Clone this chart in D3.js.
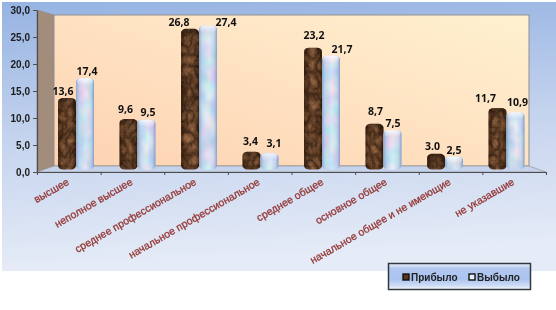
<!DOCTYPE html>
<html>
<head>
<meta charset="utf-8">
<script src="https://cdn.jsdelivr.net/npm/d3@7"></script>
<style>
  html, body { margin: 0; padding: 0; background: #fff; }
  svg { display: block; }
  text { font-family: "Liberation Sans", Arial, sans-serif; }
  .axis text { font-size: 10px; font-weight: bold; fill: #1c1c1c; }
  .cat { font-size: 10.5px; fill: #943634; stroke: #943634; stroke-width: 0.3px; }
  .val { font-family: "Open Sans", sans-serif; font-size: 10.5px; font-weight: 700; fill: #111; }
  .leg { font-size: 10px; font-weight: bold; fill: #222; }
</style>
</head>
<body>
<div id="chart"></div>
<script>
const categories = ['высшее', 'неполное высшее', 'среднее профессиональное', 'начальное профессиональное',
  'среднее общее', 'основное общее', 'начальное общее и не имеющие', 'не указавшие'];
const seriesNames = ['Прибыло', 'Выбыло'];
const arrived = [13.6, 9.6, 26.8, 3.4, 23.2, 8.7, 3.0, 11.7];
const left = [17.4, 9.5, 27.4, 3.1, 21.7, 7.5, 2.5, 10.9];
const arrivedLabels = ['13,6', '9,6', '26,8', '3,4', '23,2', '8,7', '3.0', '11,7'];
const leftLabels = ['17,4', '9,5', '27,4', '3,1', '21,7', '7,5', '2,5', '10,9'];
const yTicks = [0, 5, 10, 15, 20, 25, 30];

// hand placed data labels in the original, nudges from bar centre / bar top
const arrivedNudgeX = [-4, -3, -11, -1, 1, 1, -3.5, -12];
const arrivedNudgeY = [-3.4, -6.3, -2.8, -6.6, -8.7, -8.8, -3.7, -6];
const leftNudgeX = [2, 1.5, 18, 4.5, 11, 0.5, 0, 2];
const leftNudgeY = [-3.5, -3.6, 0.4, -6.2, -2.6, -3, -2.4, -6.3];

const width = 556;
const height = 310;

const plot = { axisLeft: 37, axisRight: 546, axisBottom: 172, axisTop: 10,
  wallLeft: 54, wallRight: 529, wallBottom: 166, wallTop: 15, barBase: 169.5 };

const svg = d3.select('#chart').append('svg')
  .attr('width', width)
  .attr('height', height);

const defs = svg.append('defs');

function gradient(id, x1, y1, x2, y2, stops) {
  const g = defs.append('linearGradient').attr('id', id)
    .attr('x1', x1).attr('y1', y1).attr('x2', x2).attr('y2', y2);
  stops.forEach(s => g.append('stop').attr('offset', s[0]).attr('stop-color', s[1]).attr('stop-opacity', s[2] === undefined ? 1 : s[2]));
}

gradient('bg', 0, 0, 0.1, 1, [[0, '#96b3e2'], [0.5, '#c4d3ee'], [1, '#e6ecf7']]);
gradient('wall', 0, 1, 1, 0, [[0, '#fdd2b2'], [1, '#fff1d0']]);
gradient('cyl', 0, 0, 1, 0, [[0, '#000', 0.35], [0.18, '#000', 0.08], [0.5, '#fff', 0.03], [0.85, '#000', 0.08], [1, '#000', 0.4]]);
gradient('cylLight', 0, 0, 1, 0, [[0, '#7f9fc8', 0.85], [0.2, '#b4cbe6', 0.4], [0.55, '#fff', 0.25], [0.8, '#b4cbe6', 0.3], [1, '#7896c4', 0.9]]);
gradient('capLight', 0, 0, 0, 1, [[0, '#fff', 0.75], [1, '#fff', 0]]);
gradient('capDark', 0, 0, 0, 1, [[0, '#000', 0.3], [1, '#000', 0]]);
gradient('legBg', 0, 0, 0, 1, [[0, '#eef2fb'], [0.18, '#b4c9f0'], [0.6, '#aac3f0'], [0.88, '#d3e0f6'], [1, '#fff']]);

// marble texture for the brown bars
const brown = defs.append('filter').attr('id', 'marble')
  .attr('color-interpolation-filters', 'sRGB')
  .attr('x', 0).attr('y', 0).attr('width', 1).attr('height', 1);
brown.append('feTurbulence').attr('type', 'turbulence').attr('baseFrequency', '0.12 0.09')
  .attr('numOctaves', 4).attr('seed', 7).attr('result', 'n');
brown.append('feColorMatrix').attr('in', 'n').attr('type', 'matrix')
  .attr('values', '0 0 0 0.5 0.2  0 0 0 0.36 0.11  0 0 0 0.25 0.05  0 0 0 0 1').attr('result', 'c');
brown.append('feComposite').attr('in', 'c').attr('in2', 'SourceAlpha').attr('operator', 'in');

// pearl texture for the pale bars
const pearl = defs.append('filter').attr('id', 'pearl')
  .attr('color-interpolation-filters', 'sRGB')
  .attr('x', 0).attr('y', 0).attr('width', 1).attr('height', 1);
pearl.append('feTurbulence').attr('type', 'fractalNoise').attr('baseFrequency', '0.08 0.06')
  .attr('numOctaves', 2).attr('seed', 3).attr('result', 'n');
pearl.append('feColorMatrix').attr('in', 'n').attr('type', 'matrix')
  .attr('values', '0.5 0 0 0 0.55  0 0.3 0 0 0.7  0 0 0.15 0 0.85  0 0 0 0 1').attr('result', 'c');
pearl.append('feComposite').attr('in', 'c').attr('in2', 'SourceAlpha').attr('operator', 'in');

const soft = defs.append('filter').attr('id', 'soft')
  .attr('filterUnits', 'userSpaceOnUse')
  .attr('x', 0).attr('y', 0).attr('width', width).attr('height', height);
soft.append('feGaussianBlur').attr('stdDeviation', 0.35);

const root = svg.append('g').attr('filter', 'url(#soft)');

// background panel
root.append('rect')
  .attr('x', 2).attr('y', 2)
  .attr('width', width - 2).attr('height', 269)
  .attr('fill', 'url(#bg)');

// 3d box
root.append('polygon')
  .attr('points', [[plot.axisLeft, plot.axisTop], [plot.wallLeft, plot.wallTop], [plot.wallLeft, plot.wallBottom], [plot.axisLeft, plot.axisBottom]].join(' '))
  .attr('fill', '#a28c7b')
  .attr('stroke', '#8c8c8c')
  .attr('stroke-width', 0.6);

root.append('rect')
  .attr('x', plot.wallLeft).attr('y', plot.wallTop)
  .attr('width', plot.wallRight - plot.wallLeft)
  .attr('height', plot.wallBottom - plot.wallTop)
  .attr('fill', 'url(#wall)')
  .attr('stroke', '#8f8f8f')
  .attr('stroke-width', 1);

root.append('polygon')
  .attr('points', [[plot.axisLeft, plot.axisBottom], [plot.wallLeft, plot.wallBottom], [plot.wallRight, plot.wallBottom], [plot.axisRight, plot.axisBottom]].join(' '))
  .attr('fill', '#c5d2ec')
  .attr('stroke', '#8f8f8f')
  .attr('stroke-width', 0.6);

// scales. the axes sit on the front of the box, the bars a little behind it
const yAxisScale = d3.scaleLinear().domain([0, 30]).range([plot.axisBottom, plot.axisTop]);
const yBar = d3.scaleLinear().domain([0, 30]).range([plot.barBase, 12]);
const xAxisScale = d3.scaleBand().domain(categories).range([plot.axisLeft, plot.axisRight]);
const xBar = d3.scaleBand().domain(categories).range([32.5, 550]).padding(0.415);
const xSeries = d3.scaleBand().domain(seriesNames).range([0, xBar.bandwidth()]);

const barData = [];
categories.forEach((c, i) => {
  barData.push({ cat: c, s: seriesNames[0], v: arrived[i], label: arrivedLabels[i], nx: arrivedNudgeX[i], ny: arrivedNudgeY[i] });
  barData.push({ cat: c, s: seriesNames[1], v: left[i], label: leftLabels[i], nx: leftNudgeX[i], ny: leftNudgeY[i] });
});

const barX = d => xBar(d.cat) + xSeries(d.s);
const isBrown = d => d.s === seriesNames[0];

const bars = root.append('g').selectAll('g')
  .data(barData)
  .enter()
  .append('g');

bars.append('rect')
  .attr('x', barX)
  .attr('y', d => yBar(d.v))
  .attr('width', xSeries.bandwidth())
  .attr('height', d => yBar(0) - yBar(d.v))
  .attr('rx', 5)
  .attr('ry', 4)
  .attr('fill', '#000')
  .attr('filter', d => isBrown(d) ? 'url(#marble)' : 'url(#pearl)');

bars.append('rect')
  .attr('x', barX)
  .attr('y', d => yBar(d.v))
  .attr('width', xSeries.bandwidth())
  .attr('height', d => yBar(0) - yBar(d.v))
  .attr('rx', 5)
  .attr('ry', 4)
  .attr('fill', d => isBrown(d) ? 'url(#cyl)' : 'url(#cylLight)');

// highlight at the round top
bars.append('rect')
  .attr('x', d => barX(d) + 1)
  .attr('y', d => yBar(d.v))
  .attr('width', xSeries.bandwidth() - 2)
  .attr('height', 7)
  .attr('rx', 4)
  .attr('ry', 3.5)
  .attr('fill', d => isBrown(d) ? 'url(#capDark)' : 'url(#capLight)');

// value labels
root.append('g').selectAll('text')
  .data(barData)
  .enter()
  .append('text')
  .attr('class', 'val')
  .attr('x', d => barX(d) + xSeries.bandwidth() / 2 + d.nx)
  .attr('y', d => yBar(d.v) + d.ny)
  .attr('text-anchor', 'middle')
  .text(d => d.label);

// axes
const yAxis = d3.axisLeft(yAxisScale)
  .tickValues(yTicks)
  .tickSize(4)
  .tickSizeOuter(0)
  .tickFormat(d => d3.format('.1f')(d).replace('.', ','));

const yG = root.append('g')
  .attr('class', 'axis')
  .attr('transform', 'translate(' + plot.axisLeft + ',0)')
  .call(yAxis);

const xAxis = d3.axisBottom(d3.scaleLinear().domain([0, categories.length]).range([plot.axisLeft, plot.axisRight]))
  .tickValues(d3.range(categories.length + 1))
  .tickSize(3)
  .tickSizeOuter(0)
  .tickFormat('');

const xG = root.append('g')
  .attr('class', 'axis')
  .attr('transform', 'translate(0,' + plot.axisBottom + ')')
  .call(xAxis);

root.selectAll('.axis path, .axis line').attr('stroke', '#4d4d4d');
xG.select('path').attr('stroke-width', 1.2);
yG.select('path').attr('stroke-width', 1.2);

// rotated category labels
root.append('g').selectAll('text')
  .data(categories)
  .enter()
  .append('text')
  .attr('class', 'cat')
  .attr('text-anchor', 'end')
  .attr('transform', d => 'translate(' + (xAxisScale(d) + xAxisScale.bandwidth() / 2 + 1) + ',184) rotate(-30)')
  .text(d => d);

// legend
const legend = root.append('g').attr('transform', 'translate(388,263)');

legend.append('rect')
  .attr('x', 0.5).attr('y', 0.5)
  .attr('width', 142).attr('height', 26)
  .attr('fill', 'url(#legBg)')
  .attr('stroke', '#33383f')
  .attr('stroke-width', 1.5);

const legendItems = legend.selectAll('g')
  .data(seriesNames)
  .enter()
  .append('g')
  .attr('transform', (d, i) => 'translate(' + (i === 0 ? 15 : 81) + ',11)');

legendItems.append('rect')
  .attr('width', 6).attr('height', 6)
  .attr('fill', (d, i) => i === 0 ? '#5b3419' : '#e6f0fa')
  .attr('stroke', '#111')
  .attr('stroke-width', 1.4);

legendItems.append('text')
  .attr('class', 'leg')
  .attr('x', 8)
  .attr('y', 7)
  .text(d => d);
</script>
</body>
</html>
